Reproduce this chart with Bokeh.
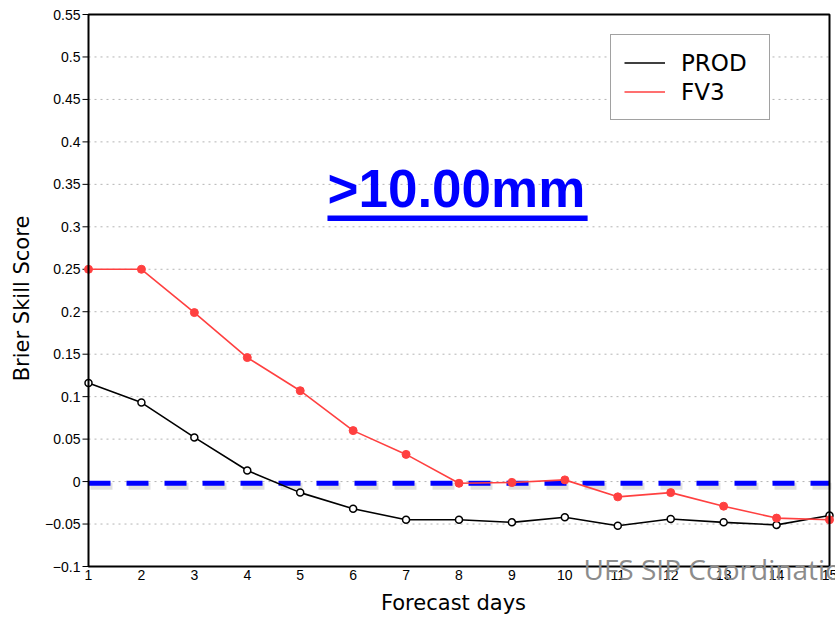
import math
from bokeh.plotting import figure
from bokeh.models import (Range1d, Label, BoxAnnotation, Legend, LegendItem, ColumnDataSource)
from bokeh.core.properties import value
from bokeh.embed import file_html
from bokeh.resources import INLINE

# ---- data ----
days = list(range(1, 16))
prod = [0.116, 0.093, 0.052, 0.013, -0.013, -0.032, -0.045, -0.045, -0.048, -0.042,
        -0.052, -0.044, -0.048, -0.051, -0.040]
fv3 = [0.250, 0.250, 0.199, 0.146, 0.107, 0.060, 0.032, -0.002, -0.001, 0.002,
       -0.018, -0.013, -0.029, -0.043, -0.045]
series_names = ["PROD", "FV3"]
x_ticks = list(range(1, 16))
x_tick_labels = [str(t) for t in x_ticks]
y_ticks = [-0.1, -0.05, 0.0, 0.05, 0.1, 0.15, 0.2, 0.25, 0.3, 0.35, 0.4, 0.45, 0.5, 0.55]
y_tick_labels = ["\u22120.1", "\u22120.05", "0", "0.05", "0.1", "0.15", "0.2", "0.25",
                 "0.3", "0.35", "0.4", "0.45", "0.5", "0.55"]
x_lo, x_hi = 1, 15
y_lo, y_hi = -0.1, 0.55
zero_ref = -0.002
threshold_label = ">10.00mm"
x_label = "Forecast days"
y_label = "Brier Skill Score"
credit = "UFS SIP Coordination"

# ---- page geometry (pixels) ----
W, H = 835, 618
plot_left, plot_right, plot_top, plot_bottom = 88, 829, 14, 566
px_x = (plot_right - plot_left) / (x_hi - x_lo)
px_y = (plot_bottom - plot_top) / (y_hi - y_lo)

def dx(px):
    return px / px_x

def dy(px):
    return px / px_y

src = ColumnDataSource(dict(day=days, prod=prod, fv3=fv3))

p = figure(width=W, height=H, output_backend="svg", toolbar_location=None,
           x_range=Range1d(x_lo - dx(plot_left), x_hi + dx(W - plot_right)),
           y_range=Range1d(y_lo - dy(H - plot_bottom), y_hi + dy(plot_top)),
           x_axis_location=None, y_axis_location=None,
           min_border=0)
p.background_fill_color = "white"
p.border_fill_color = "white"
p.outline_line_color = None
p.grid.visible = False

# dotted horizontal grid lines inside the data box
n = len(y_ticks)
p.segment(x0=[x_lo] * n, x1=[x_hi] * n, y0=y_ticks, y1=y_ticks,
          line_color="#b4b4b4", line_width=1, line_dash="2 4")

# y ticks and tick labels
p.segment(x0=[x_lo - dx(6)] * n, x1=[x_lo] * n, y0=y_ticks, y1=y_ticks,
          line_color="black", line_width=1)
p.text(x=[x_lo - dx(8)] * n, y=y_ticks, text=y_tick_labels,
       text_font=value("Liberation Sans"), text_font_size=value("14px"),
       text_color="black", text_align="right", text_baseline="middle")

# x tick labels
p.text(x=x_ticks, y=[y_lo - dy(3)] * len(x_ticks), text=x_tick_labels,
       text_font=value("Liberation Sans"), text_font_size=value("14px"),
       text_color="black", text_align="center", text_baseline="top")

# reference dashed line at zero (with soft shadow)
p.line(x=[x_lo + dx(2), x_hi + dx(2)], y=[zero_ref - dy(3)] * 2, line_color="#000000",
       line_alpha=0.12, line_width=7, line_dash="22 16")
p.line(x=[x_lo, x_hi], y=[zero_ref] * 2, line_color="#0000ff",
       line_width=5, line_dash="22 16")

# series
l_prod = p.line("day", "prod", source=src, line_color="black", line_width=1.6)
p.scatter("day", "prod", source=src, size=7, marker="circle", fill_color="white",
          line_color="black", line_width=1.5)
l_fv3 = p.line("day", "fv3", source=src, line_color="#ff4040", line_width=1.6)
p.scatter("day", "fv3", source=src, size=8, marker="circle", fill_color="#ff4040",
          line_color="#ff4040", line_width=1)

# frame box
p.add_layout(BoxAnnotation(left=x_lo, right=x_hi, bottom=y_lo, top=y_hi,
                           fill_color=None, fill_alpha=0, line_color="black",
                           line_alpha=1.0, line_width=2))

# legend
legend = Legend(items=[LegendItem(label=series_names[0], renderers=[l_prod]),
                       LegendItem(label=series_names[1], renderers=[l_fv3])],
                location=(610, H - 120), padding=13, spacing=0, margin=0,
                glyph_width=41, glyph_height=29, label_height=29, label_width=75,
                label_standoff=16, label_text_font="DejaVu Sans",
                label_text_font_size="23px", label_text_color="black",
                border_line_color="#444444", border_line_width=1.5,
                background_fill_color="white", background_fill_alpha=1.0)
p.add_layout(legend)

# big threshold label with underline
p.add_layout(Label(x=5.515, y=0.345, text=threshold_label, text_font="Liberation Sans",
                   text_font_style="bold", text_font_size="53px", text_color="#0000ff",
                   text_baseline="alphabetic", text_align="left"))
p.add_layout(BoxAnnotation(left=5.515, right=10.43, top=0.3134, bottom=0.3069,
                           fill_color="#0000ff", fill_alpha=1.0, line_color=None))

# axis titles
p.add_layout(Label(x=7.896, y=y_lo - dy(36), text=x_label, text_font="DejaVu Sans",
                   text_font_size="21px", text_color="black",
                   text_align="center", text_baseline="alphabetic"))
p.add_layout(Label(x=x_lo - dx(plot_left - 21), y=y_hi - dy(298 - plot_top), text=y_label,
                   angle=math.pi / 2, text_font="DejaVu Sans", text_font_size="21px",
                   text_color="black", text_align="center", text_baseline="alphabetic"))

# credit text (clipped at the right edge)
p.add_layout(Label(x=10.352, y=y_lo - dy(2.5), text=credit, text_font="Open Sans",
                   text_font_size="28px", text_color="#8c8c8c",
                   text_align="left", text_baseline="alphabetic"))

open("out.html", "w").write(file_html(p, INLINE))
